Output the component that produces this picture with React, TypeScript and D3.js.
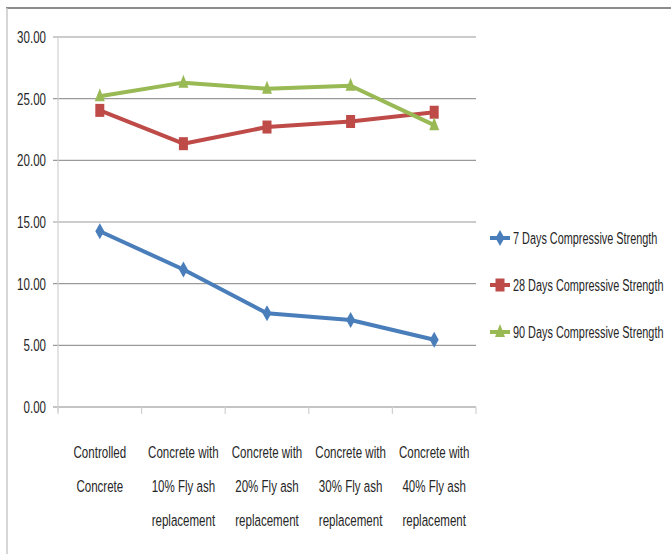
import React from "react";
import * as d3 from "d3";

const categories: string[][] = [
  ["Controlled", "Concrete"],
  ["Concrete with", "10% Fly ash", "replacement"],
  ["Concrete with", "20% Fly ash", "replacement"],
  ["Concrete with", "30% Fly ash", "replacement"],
  ["Concrete with", "40% Fly ash", "replacement"],
];

const days7 = [14.25, 11.15, 7.6, 7.05, 5.45];
const days28 = [24.05, 21.35, 22.7, 23.15, 23.9];
const days90 = [25.2, 26.3, 25.8, 26.05, 22.85];

const yTicks = [0, 5, 10, 15, 20, 25, 30];

const seriesNames = [
  "7 Days Compressive Strength",
  "28 Days Compressive Strength",
  "90 Days Compressive Strength",
];
const seriesColors = ["#4a7ebb", "#be4b48", "#98b954"];
const seriesShapes = ["diamond", "square", "triangle"];

const W = 671;
const H = 556;
const plot = { left: 58, right: 476, top: 37, bottom: 407 };
const FONT = "'Liberation Sans', Arial, sans-serif";
const SQUEEZE = 0.68;

// Narrow text: horizontally condensed label anchored at (x, y)
function NarrowText({
  x,
  y,
  anchor,
  size,
  children,
}: {
  x: number;
  y: number;
  anchor: "start" | "middle" | "end";
  size: number;
  children: React.ReactNode;
}) {
  return (
    <text
      transform={`translate(${x},${y}) scale(${SQUEEZE},1)`}
      dy="0.35em"
      textAnchor={anchor}
      fontFamily={FONT}
      fontSize={size}
      fill="#262626"
    >
      {children}
    </text>
  );
}

function Marker({ shape, x, y, color }: { shape: string; x: number; y: number; color: string }) {
  if (shape === "diamond") {
    return (
      <path
        d={`M${x},${y - 8} L${x + 4.5},${y} L${x},${y + 8} L${x - 4.5},${y} Z`}
        fill={color}
      />
    );
  }
  if (shape === "square") {
    return <rect x={x - 4.5} y={y - 6.5} width={9} height={13} fill={color} />;
  }
  return (
    <path d={`M${x},${y - 8} L${x + 5},${y + 5} L${x - 5},${y + 5} Z`} fill={color} />
  );
}

export default function App() {
  const x = d3
    .scaleBand<number>()
    .domain(d3.range(categories.length))
    .range([plot.left, plot.right]);
  const y = d3.scaleLinear().domain([0, 30]).range([plot.bottom, plot.top]);
  const cx = (i: number) => (x(i) as number) + x.bandwidth() / 2;

  const line = d3
    .line<number>()
    .x((_, i) => cx(i))
    .y((d) => y(d));

  const allSeries = [days7, days28, days90];
  const boundaries = d3.range(categories.length + 1).map((i) =>
    i < categories.length ? (x(i) as number) : plot.right
  );

  const legendX = 490;
  const legendY = [238, 285, 332];

  return (
    <svg
      width={W}
      height={H}
      style={{ position: "absolute", left: 0, top: 0, background: "#fff" }}
    >
      {/* outer frame */}
      <line x1={6} x2={W} y1={8} y2={8} stroke="#8c8c8c" strokeWidth={2} />
      <line x1={7} x2={7} y1={8} y2={H - 2} stroke="#c8c8c8" strokeWidth={1.5} />

      {/* gridlines and value labels */}
      {yTicks.map((t) => (
        <g key={t}>
          <line
            x1={plot.left - 5}
            x2={plot.right}
            y1={y(t)}
            y2={y(t)}
            stroke={t === 0 ? "#8a8a8a" : "#9a9a9a"}
            strokeWidth={1.2}
          />
          <NarrowText x={46} y={y(t)} anchor="end" size={17}>
            {t.toFixed(2)}
          </NarrowText>
        </g>
      ))}

      {/* axes */}
      <line x1={plot.left} x2={plot.left} y1={plot.top} y2={plot.bottom + 5} stroke="#d0d0d0" strokeWidth={1.2} />
      {boundaries.map((bx, i) => (
        <line key={i} x1={bx} x2={bx} y1={plot.bottom} y2={plot.bottom + 7} stroke="#d0d0d0" strokeWidth={1.2} />
      ))}

      {/* category labels */}
      {categories.map((lines, i) =>
        lines.map((l, j) => (
          <NarrowText key={`${i}-${j}`} x={cx(i)} y={452 + j * 34} anchor="middle" size={17}>
            {l}
          </NarrowText>
        ))
      )}

      {/* series */}
      {allSeries.map((s, si) => (
        <g key={si}>
          <path d={line(s) || ""} fill="none" stroke={seriesColors[si]} strokeWidth={4} strokeLinejoin="round" />
          {s.map((v, i) => (
            <Marker key={i} shape={seriesShapes[si]} x={cx(i)} y={y(v)} color={seriesColors[si]} />
          ))}
        </g>
      ))}

      {/* legend */}
      {seriesNames.map((name, si) => (
        <g key={si}>
          <line x1={legendX} x2={legendX + 20} y1={legendY[si]} y2={legendY[si]} stroke={seriesColors[si]} strokeWidth={4} />
          <Marker shape={seriesShapes[si]} x={legendX + 10} y={legendY[si]} color={seriesColors[si]} />
          <NarrowText x={legendX + 23} y={legendY[si]} anchor="start" size={16}>
            {name}
          </NarrowText>
        </g>
      ))}
    </svg>
  );
}
